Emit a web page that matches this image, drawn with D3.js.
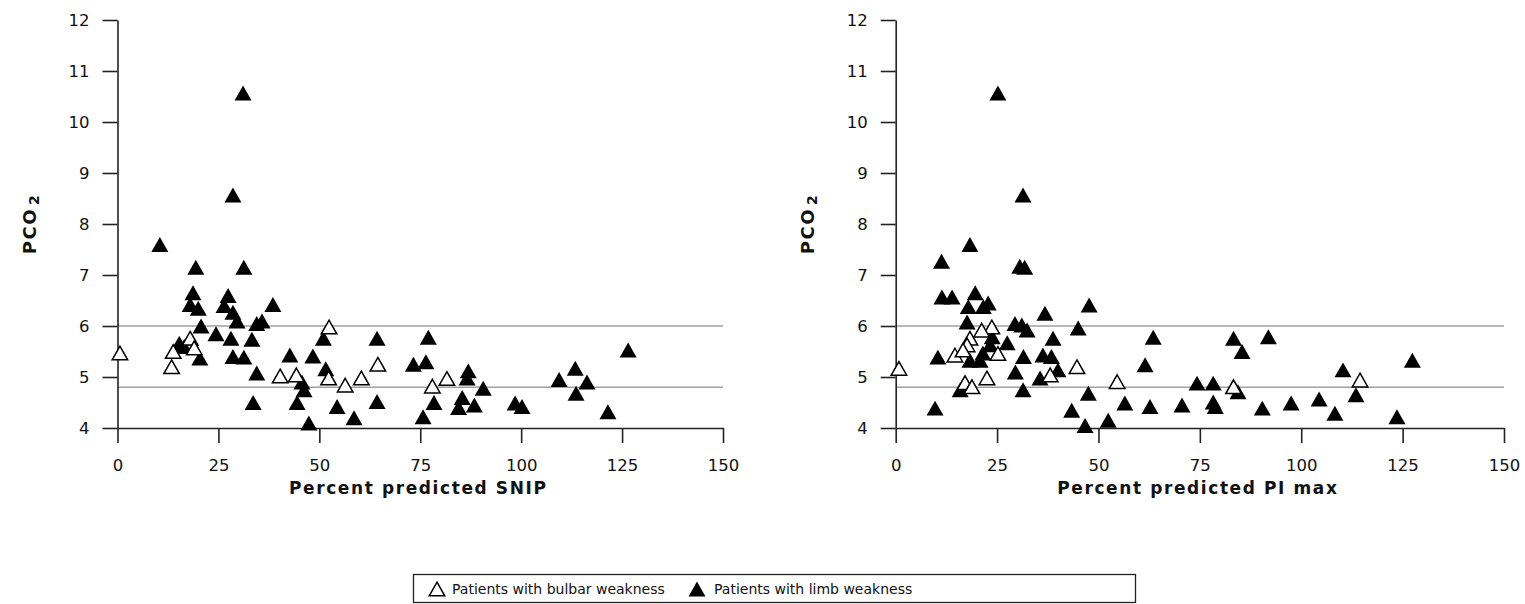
<!DOCTYPE html>
<html>
<head>
<meta charset="utf-8">
<script src="https://cdn.jsdelivr.net/npm/d3@7"></script>
<style>
  body { margin: 0; background: #fff; }
  svg { display: block; font-family: "DejaVu Sans", Verdana, sans-serif; }
</style>
</head>
<body>
<svg id="chart" width="1525" height="604"></svg>
<script>
// x ticks and y ticks shared by both panels
var xTicks = [0, 25, 50, 75, 100, 125, 150];
var yTicks = [4, 5, 6, 7, 8, 9, 10, 11, 12];
var refLines = [6, 4.8];

// panel 1: percent predicted SNIP vs PCO2
var snipBulbar = [[0.6,5.47],[13.8,5.5],[13.4,5.2],[18,5.76],[19,5.57],[40.3,5.02],[44.3,5.04],
  [52.4,5.98],[64.5,5.25],[52.3,4.98],[56.4,4.84],[60.4,4.98],[78,4.82],[81.6,4.97]];
var snipLimb = [[10.5,7.6],[31.1,10.57],[28.6,8.57],[19.4,7.15],[31.3,7.15],[18.7,6.65],[18,6.42],
  [20,6.35],[27.4,6.6],[26.4,6.4],[28.6,6.27],[29.6,6.1],[38.5,6.42],[20.7,6.0],[24.4,5.85],
  [28.1,5.76],[33.3,5.74],[34.5,6.05],[35.8,6.1],[15.3,5.66],[16.5,5.6],[20.4,5.37],[28.6,5.4],
  [31.3,5.39],[42.7,5.43],[34.5,5.08],[33.6,4.5],[44.5,4.5],[51,5.76],[64.3,5.76],[77,5.78],
  [48.4,5.41],[51.6,5.16],[73.3,5.25],[76.4,5.3],[45.7,4.9],[46.2,4.75],[54.4,4.42],[64.3,4.52],
  [47.4,4.1],[58.6,4.2],[75.7,4.22],[78.4,4.5],[86.9,5.12],[86.6,4.98],[90.6,4.78],[85.4,4.6],
  [88.4,4.45],[84.5,4.4],[98.5,4.49],[100.2,4.42],[109.4,4.95],[113.4,5.17],[116.3,4.9],
  [113.6,4.68],[121.5,4.32],[126.5,5.53]];

// panel 2: percent predicted PI max vs PCO2
var pimaxBulbar = [[0.8,5.17],[23.7,5.98],[21.2,5.92],[18.3,5.76],[17.6,5.63],[14.6,5.43],[16.6,5.53],
  [25.2,5.46],[17.1,4.89],[18.8,4.81],[22.5,4.98],[38.1,5.04],[44.7,5.2],[54.6,4.91],[83.3,4.81],
  [114.5,4.94]];
var pimaxLimb = [[25.2,10.57],[31.4,8.57],[18.3,7.6],[11.3,7.27],[30.6,7.17],[31.8,7.15],[11.4,6.57],
  [13.9,6.57],[19.6,6.65],[17.9,6.38],[22.8,6.45],[21.6,6.38],[36.8,6.25],[17.6,6.08],[29.4,6.05],
  [31.1,6.02],[32.4,5.92],[23.8,5.79],[23.3,5.63],[38.8,5.76],[27.5,5.67],[10.4,5.39],[18.3,5.33],
  [21.5,5.47],[31.5,5.4],[36.3,5.43],[38.4,5.4],[40,5.14],[29.5,5.1],[35.6,4.98],[20.8,5.33],
  [15.9,4.75],[31.4,4.75],[9.7,4.39],[43.4,4.35],[47.7,6.41],[45,5.96],[63.5,5.78],[61.5,5.24],
  [47.5,4.68],[56.5,4.49],[62.7,4.42],[70.6,4.45],[74.3,4.88],[78.3,4.88],[78.3,4.51],[46.7,4.05],
  [52.4,4.15],[83.3,5.76],[85.4,5.5],[91.9,5.79],[84.4,4.71],[78.8,4.42],[90.4,4.39],[97.5,4.49],
  [104.4,4.57],[110.3,5.14],[113.5,4.65],[108.3,4.29],[123.6,4.22],[127.4,5.33]];

var legendLabels = ['Patients with bulbar weakness', 'Patients with limb weakness'];

var svg = d3.select('#chart');

// triangle centred on its bounding box
var tri = {
  draw: function(ctx, size) {
    var w = Math.sqrt(size), h = w * 0.88;
    ctx.moveTo(0, -h / 2);
    ctx.lineTo(w / 2, h / 2);
    ctx.lineTo(-w / 2, h / 2);
    ctx.closePath();
  }
};
var filledTri = d3.symbol().type(tri).size(17 * 17);
var hollowTri = d3.symbol().type(tri).size(15.5 * 15.5);

var y = d3.scaleLinear().domain([4, 12]).range([428, 20]);

function panel(x0, x1, title, bulbar, limb) {
  var x = d3.scaleLinear().domain([0, 150]).range([x0, x1]);
  var g = svg.append('g');

  g.selectAll('.ref')
    .data(refLines)
    .enter()
    .append('line')
    .attr('x1', x(0)).attr('x2', x(150))
    .attr('y1', function(d) { return y(d) })
    .attr('y2', function(d) { return y(d) })
    .attr('stroke', '#a0a0a0')
    .attr('stroke-width', 1.5);

  var xAxis = g.append('g')
    .attr('transform', 'translate(0,' + y(4) + ')')
    .call(d3.axisBottom(x).tickValues(xTicks).tickSize(15).tickPadding(16).tickSizeOuter(0));
  var yAxis = g.append('g')
    .attr('transform', 'translate(' + x(0) + ',0)')
    .call(d3.axisLeft(y).tickValues(yTicks).tickSize(15).tickPadding(13).tickSizeOuter(0));

  [xAxis, yAxis].forEach(function(a) {
    a.select('.domain').attr('stroke', '#222').attr('stroke-width', 1.6);
    a.selectAll('.tick line').attr('stroke', '#222').attr('stroke-width', 1.6);
    a.selectAll('.tick text').attr('fill', '#111').style('font-size', '16.5px')
      .style('font-family', '"DejaVu Sans", Verdana, sans-serif');
  });

  g.append('text')
    .attr('x', (x0 + x1) / 2 - 2)
    .attr('y', 494)
    .attr('text-anchor', 'middle')
    .attr('font-weight', 'bold')
    .style('font-size', '17px')
    .style('letter-spacing', '1.6px')
    .attr('fill', '#111')
    .text(title);

  // PCO2 with subscript 2
  var yl = g.append('text')
    .attr('transform', 'translate(' + (x0 - 82) + ',224) rotate(-90)')
    .attr('text-anchor', 'middle')
    .attr('font-weight', 'bold')
    .style('font-size', '18px')
    .style('letter-spacing', '1.5px')
    .attr('fill', '#111');
  yl.append('tspan').text('PCO');
  yl.append('tspan').attr('dy', 3).attr('dx', 3).style('font-size', '14px').text('2');

  g.selectAll('.limb')
    .data(limb)
    .enter()
    .append('path')
    .attr('d', filledTri)
    .attr('transform', function(d) { return 'translate(' + x(d[0]) + ',' + y(d[1]) + ')' })
    .attr('fill', '#000');

  g.selectAll('.bulbar')
    .data(bulbar)
    .enter()
    .append('path')
    .attr('d', hollowTri)
    .attr('transform', function(d) { return 'translate(' + x(d[0]) + ',' + y(d[1]) + ')' })
    .attr('fill', '#fff')
    .attr('stroke', '#000')
    .attr('stroke-width', 1.5);
}

panel(117.5, 723, 'Percent predicted SNIP', snipBulbar, snipLimb);
panel(895.7, 1504, 'Percent predicted PI max', pimaxBulbar, pimaxLimb);

// legend
var lg = svg.append('g');
lg.append('rect')
  .attr('x', 413.5).attr('y', 574.5).attr('width', 722).attr('height', 28)
  .attr('fill', 'none').attr('stroke', '#222').attr('stroke-width', 1.3);
lg.append('path').attr('d', hollowTri).attr('transform', 'translate(437,589)')
  .attr('fill', '#fff').attr('stroke', '#000').attr('stroke-width', 1.5);
lg.append('text').attr('x', 452).attr('y', 594).style('font-size', '14px').attr('fill', '#111')
  .text(legendLabels[0]);
lg.append('path').attr('d', filledTri).attr('transform', 'translate(697,589)').attr('fill', '#000');
lg.append('text').attr('x', 714).attr('y', 594).style('font-size', '14px').attr('fill', '#111')
  .text(legendLabels[1]);
</script>
</body>
</html>
